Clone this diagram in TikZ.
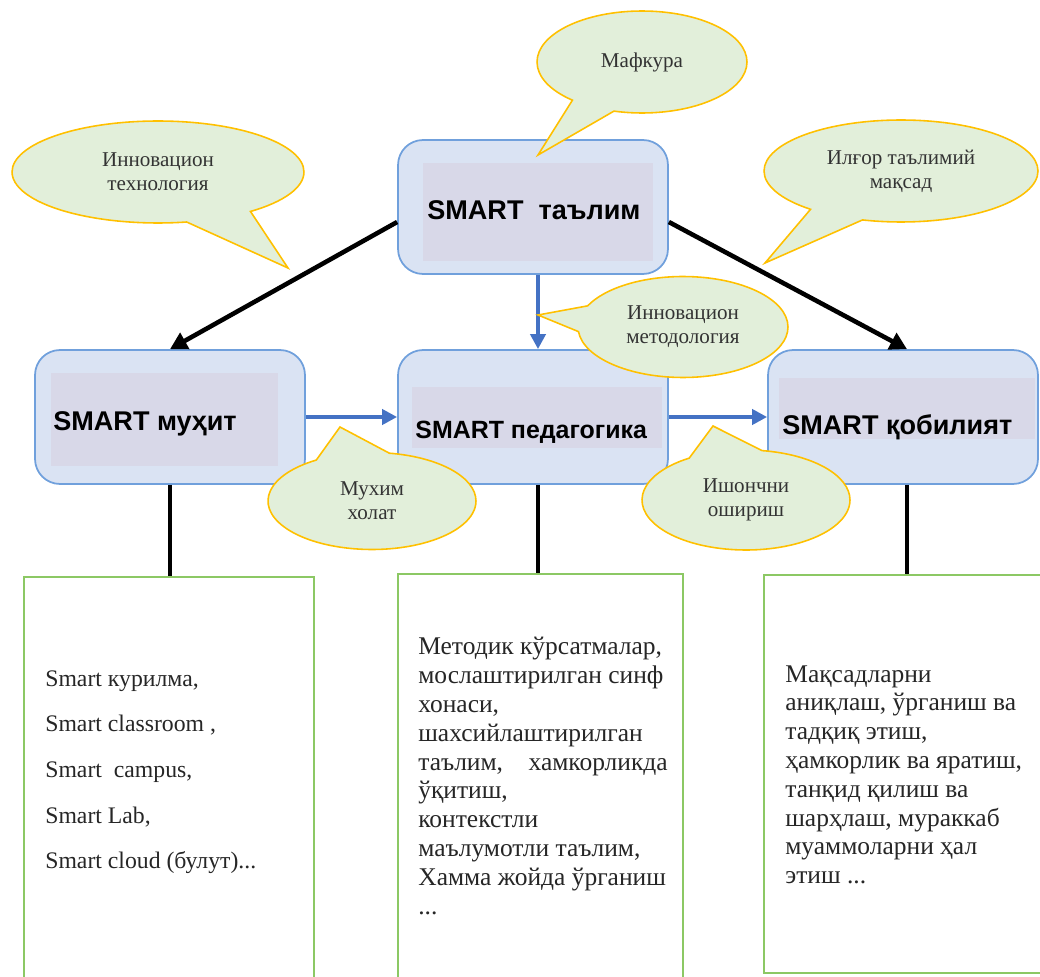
\documentclass[tikz,border=0pt]{standalone}
\usepackage{fontspec}
\setmainfont{Liberation Serif}
\newfontfamily\headfont{Liberation Sans}
\usepackage{tikz}
\usetikzlibrary{positioning,arrows.meta,shapes.callouts}
\definecolor{BoxBlue}{RGB}{218,227,243}
\definecolor{BoxEdge}{RGB}{112,160,220}
\definecolor{BoxInner}{RGB}{216,216,232}
\definecolor{BubbleGreen}{RGB}{226,239,218}
\definecolor{BubbleGold}{RGB}{255,192,0}
\definecolor{FlowBlue}{RGB}{68,114,196}
\definecolor{ListGreen}{RGB}{140,200,100}
\tikzset{
    smartbox/.style={draw=BoxEdge,fill=BoxBlue,line width=1pt,rounded corners=0.5cm,minimum width=5.4cm,minimum height=2.68cm},
    innerbox/.style={fill=BoxInner,inner sep=0pt},
    headtext/.style={font=\headfont\bfseries\fontsize{15.4}{18}\selectfont,inner sep=0pt,anchor=base west},
    bubble/.style={ellipse callout,draw=BubbleGold,fill=BubbleGreen,line width=0.9pt,inner sep=0pt,align=center,text=black!80,font=\fontsize{12}{13.6}\selectfont},
    listbox/.style={draw=ListGreen,fill=white,line width=1pt,anchor=north},
    listtext/.style={anchor=north west,align=left,inner sep=0pt,text=black!85},
    mainarrow/.style={-{Triangle[length=3.4mm,width=3.6mm]},line width=2.6pt},
    flowarrow/.style={-{Triangle[length=3mm,width=3mm]},FlowBlue,line width=2.2pt},
}

\begin{document}
\begin{tikzpicture}[x=0.02cm,y=-0.02cm]
    \useasboundingbox (0,0) rectangle (1040,976);

    \node[smartbox] (talim) at (533,207) {};
    \node[innerbox,minimum width=4.6cm,minimum height=1.96cm] (talimbg) at (538,212) {};
    \node[headtext] (talimtxt) at (427,220) {SMART\ \ таълим};

    \node[smartbox] (muhit) at (170,417) {};
    \node[innerbox,minimum width=4.54cm,minimum height=1.86cm] (muhitbg) at (164.5,419.5) {};
    \node[headtext] (muhittxt) at (53,430) {SMART муҳит};

    \node[smartbox] (pedagogika) at (533,417) {};
    \node[innerbox,minimum width=5cm,minimum height=1.22cm] (pedagogikabg) at (537,417.5) {};
    \node[headtext,font=\headfont\bfseries\fontsize{14.2}{18}\selectfont] (pedagogikatxt) at (415,438) {SMART педагогика};

    \node[smartbox] (qobiliyat) at (903,417) {};
    \node[innerbox,minimum width=5.12cm,minimum height=1.22cm] (qobiliyatbg) at (907,408.5) {};
    \node[headtext] (qobiliyattxt) at (782,434) {SMART қобилият};

    \node[listbox,minimum width=5.8cm,minimum height=8.4cm] (muhitlist) at (169,576) {};
    \node[listbox,minimum width=5.7cm,minimum height=8.4cm] (pedagogikalist) at (540.5,573) {};
    \node[listbox,minimum width=5.72cm,minimum height=7.96cm] (qobiliyatlist) at (907,574) {};

    \node[listtext,font=\fontsize{13.5}{26}\selectfont] (muhititems) at (45,670)
        {Smart курилма,\\Smart classroom ,\\Smart\ \ campus,\\Smart Lab,\\Smart cloud (булут)...};
    \node[listtext,font=\fontsize{14.5}{16.4}\selectfont] (pedagogikaitems) at (418,637)
        {Методик кўрсатмалар,\\мослаштирилган синф\\хонаси,\\шахсийлаштирилган\\таълим,\ \ \ \ хамкорликда\\ўқитиш,\\контекстли\\маълумотли таълим,\\Хамма жойда ўрганиш\\...};
    \node[listtext,font=\fontsize{14.5}{16.4}\selectfont] (qobiliyatitems) at (785,665)
        {Мақсадларни\\аниқлаш, ўрганиш ва\\тадқиқ этиш,\\ҳамкорлик ва яратиш,\\танқид қилиш ва\\шарҳлаш, мураккаб\\муаммоларни ҳал\\этиш ...};

    \draw[mainarrow] ([yshift=-0.3cm]talim.west) -- (muhit.north);
    \draw[mainarrow] ([yshift=-0.3cm]talim.east) -- ([xshift=0.08cm]qobiliyat.north);
    \draw[flowarrow] ([xshift=0.1cm]talim.south) -- ([xshift=0.1cm]pedagogika.north);
    \draw[flowarrow] (muhit.east) -- (pedagogika.west);
    \draw[flowarrow] (pedagogika.east) -- (qobiliyat.west);

    \draw[line width=2.6pt] (muhit.south) -- (muhit.south |- muhitlist.north);
    \draw[line width=2.6pt] ([xshift=0.1cm]pedagogika.south) -- ([xshift=0.1cm]pedagogika.south |- pedagogikalist.north);
    \draw[line width=2.6pt] ([xshift=0.08cm]qobiliyat.south) -- ([xshift=0.08cm]qobiliyat.south |- qobiliyatlist.north);

    \node[bubble,minimum width=5.84cm,minimum height=2.04cm,callout absolute pointer={(288,268)},callout pointer arc=28] (texnologiya) at (158,172) {Инновацион\\технология};
    \node[bubble,minimum width=4.2cm,minimum height=2.04cm,callout absolute pointer={(538,155)},callout pointer arc=26] (mafkura) at (642,62) {Мафкура};
    \node[bubble,minimum width=5.48cm,minimum height=2.04cm,callout absolute pointer={(765,263)},callout pointer arc=25] (maqsad) at (901,171) {Илғор таълимий\\мақсад};
    \node[bubble,minimum width=4.2cm,minimum height=2.02cm,callout absolute pointer={(538,315)},callout pointer arc=30] (metodologiya) at (683,327) {Инновацион\\методология};
    \node[bubble,minimum width=4.16cm,minimum height=1.94cm,callout absolute pointer={(340,427)},callout pointer arc=42] (holat) at (372,501) {Мухим\\холат};
    \node[bubble,minimum width=4.16cm,minimum height=2cm,callout absolute pointer={(713,426)},callout pointer arc=42] (ishonch) at (746,500) {Ишончни\\ошириш};
\end{tikzpicture}
\end{document}
